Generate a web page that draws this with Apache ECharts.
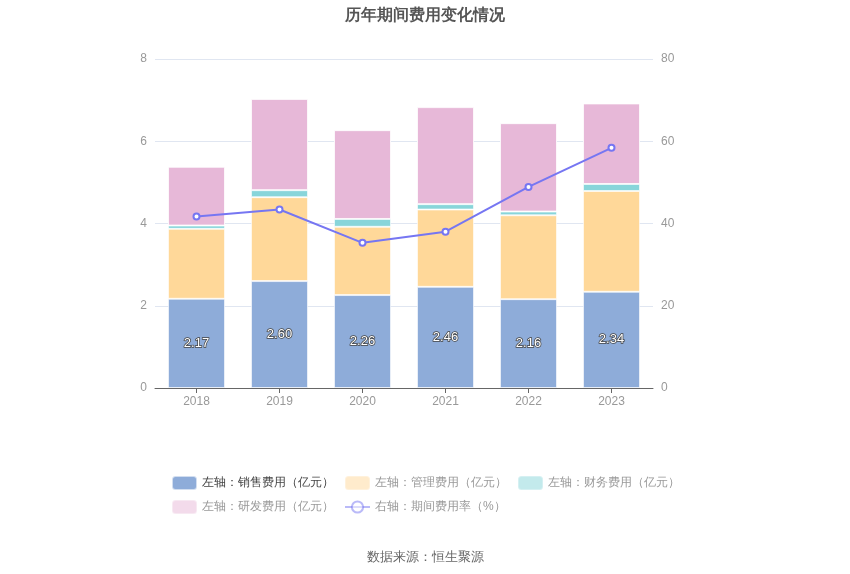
<!DOCTYPE html>
<html><head><meta charset="utf-8">
<script src="https://cdn.jsdelivr.net/npm/echarts@6/dist/echarts.min.js"></script>
<style>html,body{margin:0;padding:0;background:#fff}#c{width:850px;height:574px}</style>
</head><body><div id="c"></div>
<script>
const categories = ['2018','2019','2020','2021','2022','2023'];
const salesExp = [2.17, 2.60, 2.26, 2.46, 2.16, 2.34];
const adminExp = [1.70, 2.04, 1.66, 1.88, 2.04, 2.45];
const finExp = [0.08, 0.17, 0.19, 0.13, 0.09, 0.17];
const rdExp = [1.43, 2.22, 2.16, 2.36, 2.15, 1.96];
const expRate = [41.7, 43.4, 35.3, 38.0, 48.9, 58.4];
const leftTicks = [0, 8, 2];
const rightTicks = [0, 80, 20];

const chart = echarts.init(document.getElementById('c'));
const font = 'sans-serif';
const legendCommon = {itemWidth:25, itemHeight:14, itemGap:10, textStyle:{fontSize:12, color:'#999', fontFamily:font}};
chart.setOption({
  animation:false,
  title:{text:'历年期间费用变化情况', left:'center', top:3, textStyle:{fontSize:16, fontWeight:'bold', color:'#555', fontFamily:font}},
  grid:{left:155, right:197, top:59, bottom:186},
  legend:[
    Object.assign({}, legendCommon, {top:470, left:166, width:700, data:[
      {name:'左轴：销售费用（亿元）', textStyle:{color:'#444'}},
      {name:'左轴：管理费用（亿元）', itemStyle:{opacity:0.5}},
      {name:'左轴：财务费用（亿元）', itemStyle:{opacity:0.5}}
    ]}),
    Object.assign({}, legendCommon, {top:494, left:166, width:700, data:[
      {name:'左轴：研发费用（亿元）', itemStyle:{opacity:0.5}},
      {name:'右轴：期间费用率（%）', itemStyle:{opacity:0.5}, lineStyle:{opacity:0.5}}
    ]})
  ],
  graphic:[{type:'text', left:'center', top:551, style:{text:'数据来源：恒生聚源', fill:'#666', fontSize:13, fontFamily:font}}],
  xAxis:{type:'category', data:categories,
    axisLine:{lineStyle:{color:'#666'}}, axisTick:{show:true, alignWithLabel:true, lineStyle:{color:'#666'}},
    axisLabel:{color:'#999', fontSize:12, margin:8}},
  yAxis:[
    {type:'value', min:leftTicks[0], max:leftTicks[1], interval:leftTicks[2], axisLabel:{color:'#999', fontSize:12, margin:8},
      axisLine:{show:false}, axisTick:{show:false}, splitLine:{lineStyle:{color:'#E0E6F1'}}},
    {type:'value', min:rightTicks[0], max:rightTicks[1], interval:rightTicks[2], axisLabel:{color:'#999', fontSize:12, margin:8},
      axisLine:{show:false}, axisTick:{show:false}, splitLine:{show:false}}
  ],
  series:[
    {type:'bar', stack:'total', barWidth:57, name:'左轴：销售费用（亿元）', data:salesExp, itemStyle:{color:'#8EACD9', borderColor:'rgba(255,255,255,0.6)', borderWidth:1},
      label:{show:true, position:'inside', color:'#fff', fontSize:13, textBorderColor:'#444', textBorderWidth:1.5, formatter:p=>p.value.toFixed(2)}},
    {type:'bar', stack:'total', barWidth:57, name:'左轴：管理费用（亿元）', data:adminExp, itemStyle:{color:'#FFD899', borderColor:'rgba(255,255,255,0.6)', borderWidth:1}},
    {type:'bar', stack:'total', barWidth:57, name:'左轴：财务费用（亿元）', data:finExp, itemStyle:{color:'#88D5DA', borderColor:'rgba(255,255,255,0.6)', borderWidth:1}},
    {type:'bar', stack:'total', barWidth:57, name:'左轴：研发费用（亿元）', data:rdExp, itemStyle:{color:'#E7B8D8', borderColor:'rgba(255,255,255,0.8)', borderWidth:1}},
    {type:'line', name:'右轴：期间费用率（%）', yAxisIndex:1, data:expRate, symbol:'emptyCircle', symbolSize:6,
      lineStyle:{color:'#7676F2', width:2}, itemStyle:{color:'#7676F2', borderWidth:2}, z:10}
  ]
});
</script></body></html>
